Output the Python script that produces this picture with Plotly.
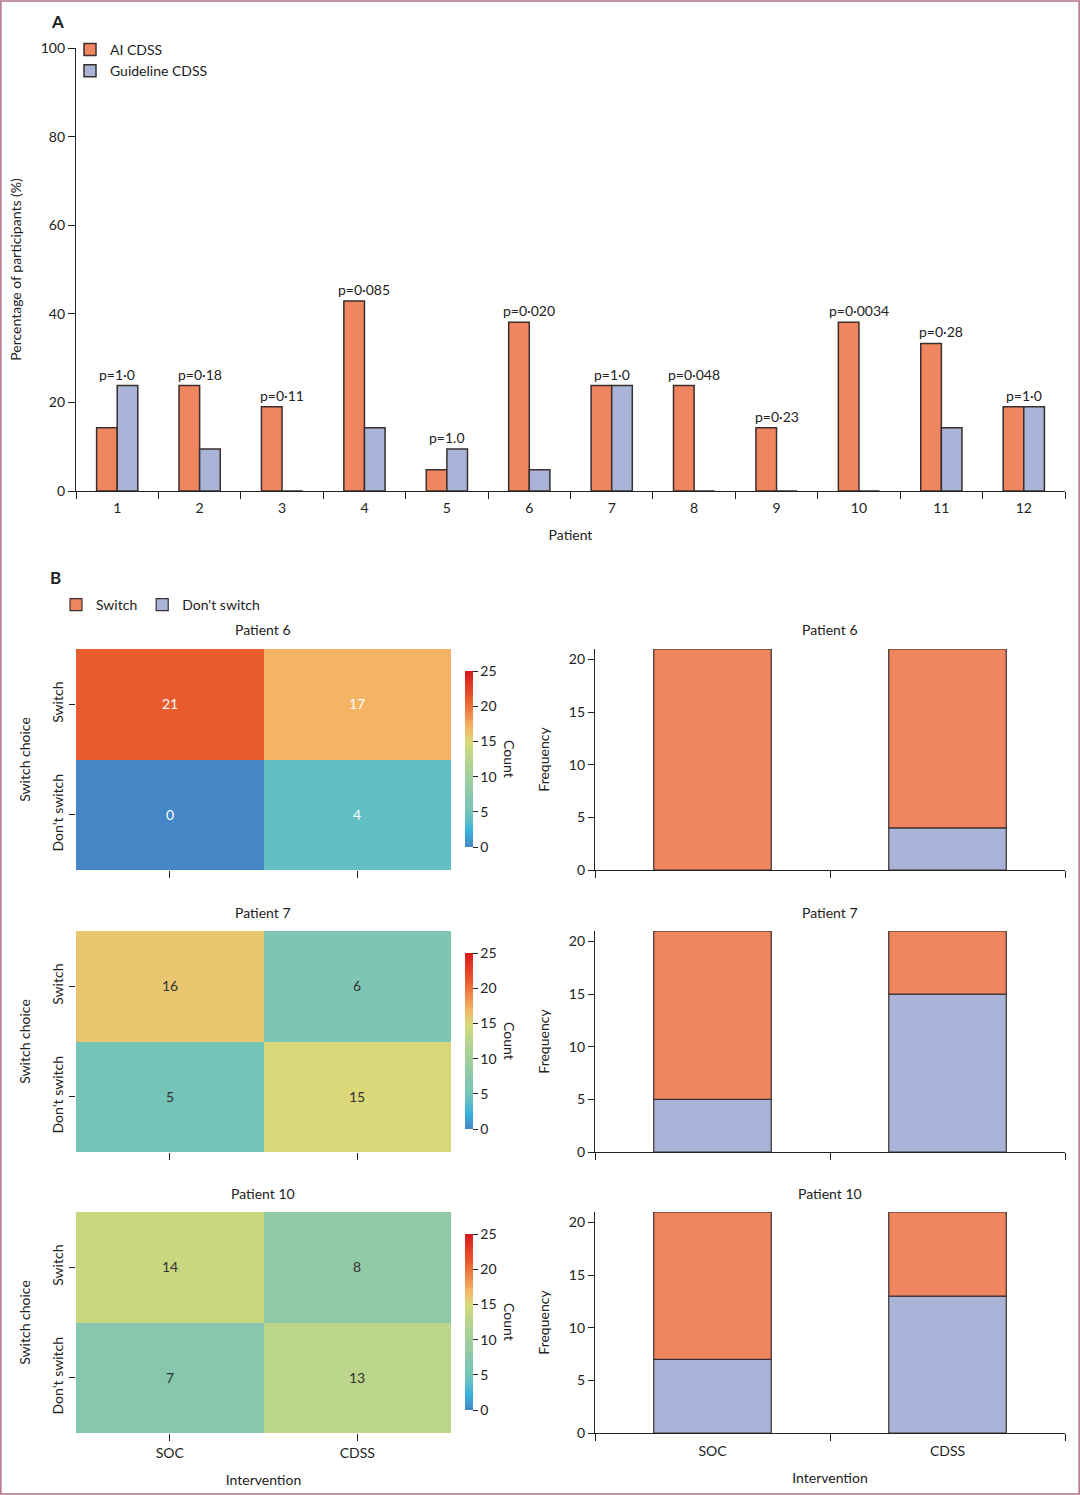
import plotly.graph_objects as go

W, H = 1080, 1495

# panel A data
patients = [str(i) for i in range(1, 13)]
ai_cdss = [14.3, 23.8, 19.0, 42.9, 4.8, 38.1, 23.8, 23.8, 14.3, 38.1, 33.3, 19.0]
guideline_cdss = [23.8, 9.5, 0, 14.3, 9.5, 4.8, 23.8, 0, 0, 0, 14.3, 19.0]
p_values = ["p=1·0", "p=0·18", "p=0·11", "p=0·085", "p=1.0", "p=0·020",
            "p=1·0", "p=0·048", "p=0·23", "p=0·0034", "p=0·28", "p=1·0"]

# panel B data
interventions = ["SOC", "CDSS"]
choices = ["Switch", "Don't switch"]
panel_titles = ["Patient 6", "Patient 7", "Patient 10"]
switch_counts = [[21, 17], [16, 6], [14, 8]]
dont_switch_counts = [[0, 4], [5, 15], [7, 13]]
count_ticks = [0, 5, 10, 15, 20, 25]
freq_ticks = [0, 5, 10, 15, 20]

ORANGE = "#f0865f"
BLUE = "#aab4d8"
EDGE = "#3a2e2e"
TXT = "#222222"
FONT = "Lato"
FS = 14

heat_scale = [
    [0.0, "#4586c6"], [0.09, "#3ab2dc"], [0.16, "#62bfc4"], [0.2, "#74c5b8"],
    [0.28, "#87c7ad"], [0.32, "#91c9a6"], [0.52, "#bcd68b"], [0.56, "#c9d87f"],
    [0.6, "#dbd87a"], [0.64, "#e8c670"], [0.68, "#f4b463"], [0.84, "#e95c2e"],
    [1.0, "#d7191c"],
]


def fx(px):
    return px / W


def fy(py):
    return 1 - py / H


def label(px, py, text, size=FS, angle=0):
    return dict(x=fx(px), y=fy(py), xref="paper", yref="paper", text=text, showarrow=False,
                xanchor="center", yanchor="middle", textangle=angle, font=dict(size=size, color=TXT))


fig = go.Figure()

# ---- Panel A: grouped bars
fig.add_trace(go.Bar(x=patients, y=ai_cdss, name="AI CDSS",
                     marker=dict(color=ORANGE, line=dict(color=EDGE, width=1.5)),
                     legend="legend", xaxis="x", yaxis="y"))
fig.add_trace(go.Bar(x=patients, y=guideline_cdss, name="Guideline CDSS",
                     marker=dict(color=BLUE, line=dict(color=EDGE, width=1.5)),
                     legend="legend", xaxis="x", yaxis="y"))

annotations = []
# p-values above each patient (category index as x)
for k, (a, g, p) in enumerate(zip(ai_cdss, guideline_cdss, p_values)):
    annotations.append(dict(x=k, y=max(a, g), xref="x", yref="y", text=p, showarrow=False,
                            xanchor="center", yanchor="bottom", yshift=1, font=dict(size=FS, color=TXT)))

# ---- Panel B: heatmaps + stacked bars
row_tops = [649, 931, 1212]
row_h = 221
text_colors = ["#ffffff", "#333333", "#333333"]
title_font = dict(size=FS, color=TXT)

for i, top in enumerate(row_tops):
    hx = "x%d" % (i + 2)
    hy = "y%d" % (i + 2)
    bx = "x%d" % (i + 5)
    by = "y%d" % (i + 5)
    z = [switch_counts[i], dont_switch_counts[i]]
    fig.add_trace(go.Heatmap(
        z=z, x=interventions, y=choices, xaxis=hx, yaxis=hy,
        zmin=0, zmax=25, colorscale=heat_scale,
        texttemplate="%{z}", textfont=dict(size=FS, color=text_colors[i]),
        colorbar=dict(x=fx(465), xanchor="left", y=fy(top + 110), yanchor="middle",
                      xpad=0, ypad=0, lenmode="pixels", len=176, thickness=8, outlinewidth=0,
                      tickvals=count_ticks, ticks="outside", ticklen=5, tickcolor=TXT,
                      tickfont=dict(size=FS, color=TXT)),
    ))
    fig.add_trace(go.Bar(x=interventions, y=dont_switch_counts[i], name="Don't switch",
                         marker=dict(color=BLUE, line=dict(color=EDGE, width=1.2)),
                         offsetgroup="s", legend="legend2", legendrank=2, showlegend=(i == 0),
                         xaxis=bx, yaxis=by))
    fig.add_trace(go.Bar(x=interventions, y=switch_counts[i], base=dont_switch_counts[i], name="Switch",
                         marker=dict(color=ORANGE, line=dict(color=EDGE, width=1.2)),
                         offsetgroup="s", legend="legend2", legendrank=1, showlegend=(i == 0),
                         xaxis=bx, yaxis=by))

    ydom = [fy(top + row_h), fy(top)]
    last = i == len(row_tops) - 1
    fig.update_layout(**{
        "xaxis%d" % (i + 2): dict(domain=[fx(76), fx(451)], anchor=hy, ticks="outside", ticklen=7,
                                  tickcolor=TXT, showline=False, showticklabels=last,
                                  title=dict(text="Intervention" if last else "", font=title_font),
                                  showgrid=False),
        "yaxis%d" % (i + 2): dict(domain=ydom, anchor=hx, ticks="outside", ticklen=6, tickcolor=TXT,
                                  tickangle=-90, autorange="reversed", showgrid=False,
                                  title=dict(text="Switch choice", font=title_font)),
        "xaxis%d" % (i + 5): dict(domain=[fx(595), fx(1065)], anchor=by, type="category",
                                  tickson="boundaries", ticks="outside", ticklen=7, tickcolor=TXT,
                                  ticklabelstandoff=5,
                                  showline=True, linecolor=TXT, linewidth=1.2, showgrid=False,
                                  showticklabels=last,
                                  title=dict(text="Intervention" if last else "", font=title_font)),
        "yaxis%d" % (i + 5): dict(domain=ydom, anchor=bx, range=[0, 21], tickvals=freq_ticks,
                                  ticks="outside", ticklen=6, tickcolor=TXT, showline=True,
                                  linecolor=TXT, linewidth=1.2, showgrid=False, zeroline=False,
                                  title=dict(text="Frequency", font=title_font)),
    })
    annotations.append(label(263, top - 19, panel_titles[i]))
    annotations.append(label(830, top - 19, panel_titles[i]))
    annotations.append(label(510, top + 110, "Count", angle=90))

annotations.append(label(57, 21, "<b>A</b>", size=17))
annotations.append(label(55, 577, "<b>B</b>", size=17))

fig.update_layout(
    width=W, height=H,
    margin=dict(l=0, r=0, t=0, b=0, pad=0, autoexpand=False),
    paper_bgcolor="white", plot_bgcolor="white",
    font=dict(family=FONT, size=FS, color=TXT),
    barmode="group", bargap=0.5, bargroupgap=0,
    xaxis=dict(domain=[fx(76), fx(1065)], anchor="y", type="category", tickson="boundaries",
               ticks="outside", ticklen=7, tickcolor=TXT, ticklabelstandoff=4,
               showline=True, linecolor=TXT, linewidth=1.2,
               showgrid=False, title=dict(text="Patient", font=title_font)),
    yaxis=dict(domain=[fy(491), fy(48)], anchor="x", range=[0, 100], tickvals=[0, 20, 40, 60, 80, 100],
               ticks="outside", ticklen=7, tickcolor=TXT, showline=True, linecolor=TXT, linewidth=1.2,
               showgrid=False, zeroline=False,
               title=dict(text="Percentage of participants (%)", font=title_font)),
    legend=dict(x=fx(70), y=fy(34), xanchor="left", yanchor="top", font=dict(size=FS),
                bgcolor="rgba(0,0,0,0)", tracegroupgap=0, itemwidth=30),
    legend2=dict(x=fx(56), y=fy(589), xanchor="left", yanchor="top", orientation="h",
                 font=dict(size=FS), bgcolor="rgba(0,0,0,0)", itemwidth=30),
    annotations=annotations,
    shapes=[dict(type="rect", xref="paper", yref="paper", x0=0.0008, x1=0.9992, y0=0.0006, y1=0.9994,
                 line=dict(color="#b07080", width=1.5))],
)

fig.write_html(
    "out.html",
    config={"displayModeBar": False},
    post_script="document.body.style.margin='0px';",
)
